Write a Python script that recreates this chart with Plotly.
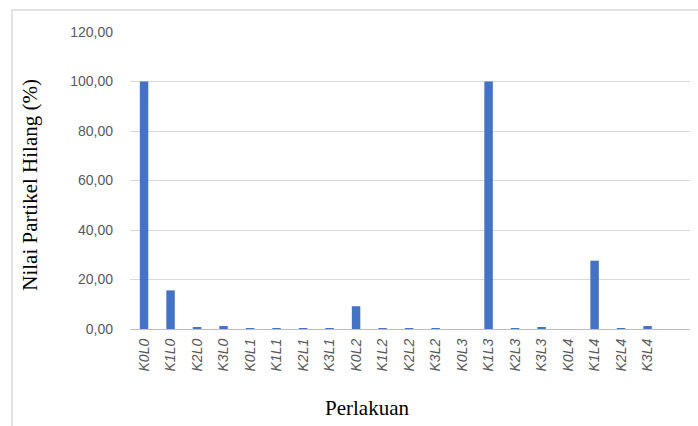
import plotly.graph_objects as go

# Treatment codes and the percentage of lost particles for each
perlakuan = ["K0L0", "K1L0", "K2L0", "K3L0", "K0L1", "K1L1", "K2L1", "K3L1",
             "K0L2", "K1L2", "K2L2", "K3L2", "K0L3", "K1L3", "K2L3", "K3L3",
             "K0L4", "K1L4", "K2L4", "K3L4"]
nilai = [100.0, 15.6, 0.8, 1.2, 0.4, 0.2, 0.4, 0.4,
         9.2, 0.4, 0.2, 0.1, 0.0, 100.0, 0.3, 0.7,
         0.0, 27.6, 0.3, 1.2]
y_ticks = [0, 20, 40, 60, 80, 100, 120]
y_ticktext = ["0,00", "20,00", "40,00", "60,00", "80,00", "100,00", "120,00"]

pos = list(range(len(perlakuan)))

fig = go.Figure(go.Bar(x=pos, y=nilai, width=0.32, marker=dict(color="#4472C4", line=dict(width=0))))

W, H = 698, 426
ml, mr, mt, mb = 130, 8, 32, 96.5
pw, ph = W - ml - mr, H - mt - mb

def px_x(v):
    return (v - ml) / pw

def px_y(v):
    return (H - mb - v) / ph

fig.update_layout(
    width=W, height=H,
    margin=dict(l=ml, r=mr, t=mt, b=mb, pad=0),
    paper_bgcolor="white", plot_bgcolor="white",
    showlegend=False,
    xaxis=dict(
        range=[-0.53, 20.6],
        tickmode="array", tickvals=pos, ticktext=perlakuan,
        tickangle=-90,
        tickfont=dict(family="Liberation Sans", size=14, color="#595959", style="italic"),
        ticklabelstandoff=6,
        showgrid=False, zeroline=False,
        showline=False, ticks="",
    ),
    yaxis=dict(
        range=[0, 120],
        tickmode="array", tickvals=y_ticks, ticktext=y_ticktext,
        tickfont=dict(family="Liberation Sans", size=14, color="#595959"),
        ticklabelstandoff=16,
        showgrid=True, gridcolor="#d9d9d9", gridwidth=1,
        zeroline=True, zerolinecolor="#bfbfbf", zerolinewidth=1,
        showline=False, ticks="",
    ),
    shapes=[
        dict(type="rect", xref="paper", yref="paper",
             x0=px_x(12), x1=px_x(720), y0=px_y(450), y1=px_y(10),
             line=dict(color="#d9d9d9", width=1.5), fillcolor="rgba(0,0,0,0)", layer="below"),
    ],
    annotations=[
        dict(text="Nilai Partikel Hilang (%)", textangle=-90,
             xref="paper", yref="paper", x=px_x(30), y=px_y(185),
             xanchor="center", yanchor="middle", showarrow=False,
             font=dict(family="Liberation Serif", size=21, color="#000000")),
        dict(text="Perlakuan",
             xref="paper", yref="paper", x=px_x(367), y=px_y(409),
             xanchor="center", yanchor="middle", showarrow=False,
             font=dict(family="Liberation Serif", size=21, color="#000000")),
    ],
)

fig.write_html("out.html")
